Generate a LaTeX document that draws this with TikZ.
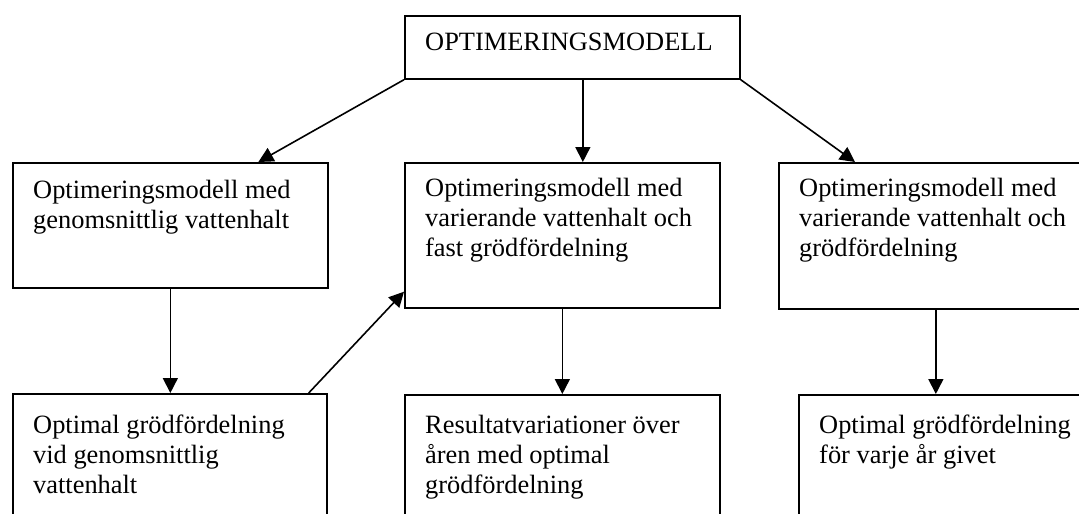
\documentclass[tikz,border=0pt]{standalone}
\usepackage{fontspec}
\setmainfont{Liberation Serif}
\usetikzlibrary{arrows.meta}
\tikzset{
  modelbox/.style = {rectangle, draw, line width=1.7pt, anchor=north west, inner sep=0pt},
  boxtext/.style  = {anchor=north west, inner sep=0pt, align=left,
                     font=\fontsize{26.4}{30}\selectfont},
  arrow/.style    = {-{Triangle[length=15pt,width=15pt]}, line width=1.6pt},
}

\begin{document}
\begin{tikzpicture}[x=1pt, y=-1pt]
\useasboundingbox (0,0) rectangle (1079,514);
\clip (0,0) rectangle (1079,514);

% Top
\node[modelbox, minimum width=335, minimum height=63] (top) at (404,15) {};
\node[boxtext] (topT) at ([shift={(21,14)}]top.north west) {\strut OPTIMERINGSMODELL};

% Row 1: models
\node[modelbox, minimum width=315, minimum height=125] (modA) at (12,162) {};
\node[modelbox, minimum width=315, minimum height=145] (modB) at (404,162) {};
\node[modelbox, minimum width=322, minimum height=146] (modC) at (778,162) {};
\node[boxtext] (modAT) at ([shift={(21,15)}]modA.north west)
  {\strut Optimeringsmodell med\\genomsnittlig vattenhalt};
\node[boxtext] (modBT) at ([shift={(21,13)}]modB.north west)
  {\strut Optimeringsmodell med\\varierande vattenhalt och\\fast grödfördelning};
\node[boxtext] (modCT) at ([shift={(21,13)}]modC.north west)
  {\strut Optimeringsmodell med\\varierande vattenhalt och\\grödfördelning};

% Row 2: results
\node[modelbox, minimum width=314, minimum height=150] (resA) at (12,393) {};
\node[modelbox, minimum width=315, minimum height=150] (resB) at (404,394) {};
\node[modelbox, minimum width=302, minimum height=150] (resC) at (798,394) {};
\node[boxtext] (resAT) at ([shift={(21,19)}]resA.north west)
  {\strut Optimal grödfördelning\\vid genomsnittlig\\vattenhalt};
\node[boxtext] (resBT) at ([shift={(21,18)}]resB.north west)
  {\strut Resultatvariationer över\\åren med optimal\\grödfördelning};
\node[boxtext] (resCT) at ([shift={(21,18)}]resC.north west)
  {\strut Optimal grödfördelning\\för varje år givet};

% Connectors
\draw[arrow] (top.south west) -- ([xshift=88]modA.north);
\draw[arrow] ([xshift=10.5]top.south) -- ([xshift=10.5]top.south |- modB.north);
\draw[arrow] (top.south east) -- ([xshift=77]modC.north west);
\draw[arrow] (modA.south) -- (modA.south |- resA.north);
\draw[arrow] ([xshift=-19]resA.north east) -- ([yshift=17]modB.south west);
\draw[arrow] (modB.south) -- (modB.south |- resB.north);
\draw[arrow] ([xshift=-4]modC.south) -- ([xshift=-4]modC.south |- resC.north);
\end{tikzpicture}
\end{document}
